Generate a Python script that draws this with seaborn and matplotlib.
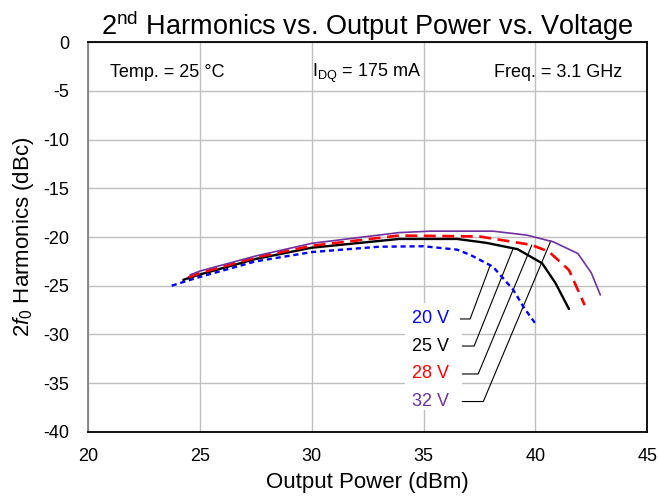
import matplotlib
matplotlib.use("Agg")
import matplotlib.pyplot as plt
import seaborn as sns
import pandas as pd
from matplotlib.patches import Rectangle

# Output power (dBm) and 2nd-harmonic level (dBc) for each drain voltage
pout_20v = [23.74, 25.0, 27.5, 30.0, 33.0, 35.0, 36.5, 37.1, 38.1, 39.0, 39.5, 40.0]
h2_20v = [-25.0, -24.1, -22.5, -21.55, -21.0, -20.95, -21.3, -21.85, -23.05, -25.4, -27.3, -28.9]

pout_25v = [24.26, 25.0, 27.5, 30.0, 33.9, 36.5, 37.8, 39.2, 40.3, 40.9, 41.5]
h2_25v = [-24.4, -23.85, -22.25, -21.1, -20.2, -20.2, -20.6, -21.25, -22.7, -24.75, -27.4]

pout_28v = [24.49, 25.0, 27.5, 30.0, 33.9, 37.5, 39.8, 40.6, 41.5, 42.2]
h2_28v = [-24.15, -23.7, -22.1, -20.9, -19.85, -19.95, -20.8, -21.5, -23.4, -27.0]

pout_32v = [24.56, 25.0, 27.5, 30.0, 33.9, 35.3, 38.1, 39.6, 40.8, 41.9, 42.5, 42.9]
h2_32v = [-23.9, -23.5, -21.95, -20.65, -19.55, -19.4, -19.4, -19.8, -20.5, -21.7, -23.7, -25.95]

voltages = ["20 V", "25 V", "28 V", "32 V"]
colors = ["#0000FF", "#000000", "#FF0000", "#7030A0"]

# label leader lines: (start x, elbow x, label y, end x on curve, end y on curve)
leader_x0 = [36.64, 36.73, 36.73, 36.73]
leader_x1 = [37.08, 37.26, 37.44, 37.67]
leader_y = [-28.42, -31.2, -34.07, -36.9]
leader_xe = [37.98, 38.99, 39.84, 40.69]
leader_ye = [-22.88, -21.26, -20.82, -20.38]

xticks = [20, 25, 30, 35, 40, 45]
yticks = [0, -5, -10, -15, -20, -25, -30, -35, -40]

sns.set_theme(style="white")
plt.rcParams["font.family"] = ["Liberation Sans", "DejaVu Sans"]
plt.rcParams["mathtext.fontset"] = "custom"
plt.rcParams["mathtext.rm"] = "Liberation Sans"
plt.rcParams["mathtext.it"] = "Liberation Sans:italic"
plt.rcParams["axes.unicode_minus"] = False
plt.rcParams["text.color"] = "black"
plt.rcParams["axes.labelcolor"] = "black"

frames = []
for v, xs, ys in zip(voltages, [pout_20v, pout_25v, pout_28v, pout_32v],
                     [h2_20v, h2_25v, h2_28v, h2_32v]):
    frames.append(pd.DataFrame({"pout": xs, "h2": ys, "vdd": v}))
df = pd.concat(frames, ignore_index=True)

fig = plt.figure(figsize=(6.58, 4.97), dpi=100)
ax = fig.add_axes([88 / 658, 1 - 431.7 / 497, (647.3 - 88) / 658, (431.7 - 42.3) / 497])

styles = {
    "20 V": dict(lw=1.7, dashes=(2.2, 1.6)),
    "25 V": dict(lw=1.7),
    "28 V": dict(lw=1.9, dashes=(4.5, 2.5)),
    "32 V": dict(lw=1.2),
}
for v, c in zip(voltages, colors):
    sub = df[df["vdd"] == v]
    st = styles[v]
    line = sns.lineplot(data=sub, x="pout", y="h2", ax=ax, color=c,
                        linewidth=st["lw"], legend=False, zorder=4).lines[-1]
    if "dashes" in st:
        line.set_dashes(st["dashes"])

ax.set_xlim(20, 45)
ax.set_ylim(-40, 0)
ax.set_xticks(xticks)
ax.set_yticks(yticks)
ax.grid(True, color="#BFBFBF", linewidth=1.0)
ax.set_axisbelow(True)
ax.tick_params(length=0, labelsize=13, colors="black")
ax.tick_params(axis="x", pad=11.5)
ax.tick_params(axis="y", pad=13.5)
for side in ["top", "right", "bottom"]:
    ax.spines[side].set_color("black")
    ax.spines[side].set_linewidth(1.3)
ax.spines["left"].set_color("#808080")
ax.spines["left"].set_linewidth(1.3)

# white panel behind the series labels
ax.add_patch(Rectangle((34.18, -37.8), 36.73 - 34.18, 37.8 - 26.8,
                       facecolor="white", edgecolor="none", zorder=2))
for v, c, x0, x1, y, xe, ye in zip(voltages, colors, leader_x0, leader_x1,
                                   leader_y, leader_xe, leader_ye):
    ax.plot([x0, x1, xe], [y, y, ye], color="black", linewidth=0.8, zorder=3)
    ax.text(35.3, y, v, color=c, fontsize=13, ha="center", va="center", zorder=5)

ax.text(20.98, -3.15, "Temp. = 25 °C", fontsize=13, ha="left", va="center")
ax.text(30.02, -3.15, "I$_{\\rm DQ}$ = 175 mA", fontsize=13, ha="left", va="center")
ax.text(43.88, -3.15, "Freq. = 3.1 GHz", fontsize=13, ha="right", va="center")

ax.set_title("2$^{\\rm nd}$ Harmonics vs. Output Power vs. Voltage", fontsize=19.5,
             pad=5, color="black")
ax.set_xlabel("Output Power (dBm)", fontsize=16, labelpad=5)
ax.set_ylabel("2$\\mathit{f}_{\\mathit{0}}$ Harmonics (dBc)", fontsize=16, labelpad=5)

fig.savefig("out.png", dpi=100)
